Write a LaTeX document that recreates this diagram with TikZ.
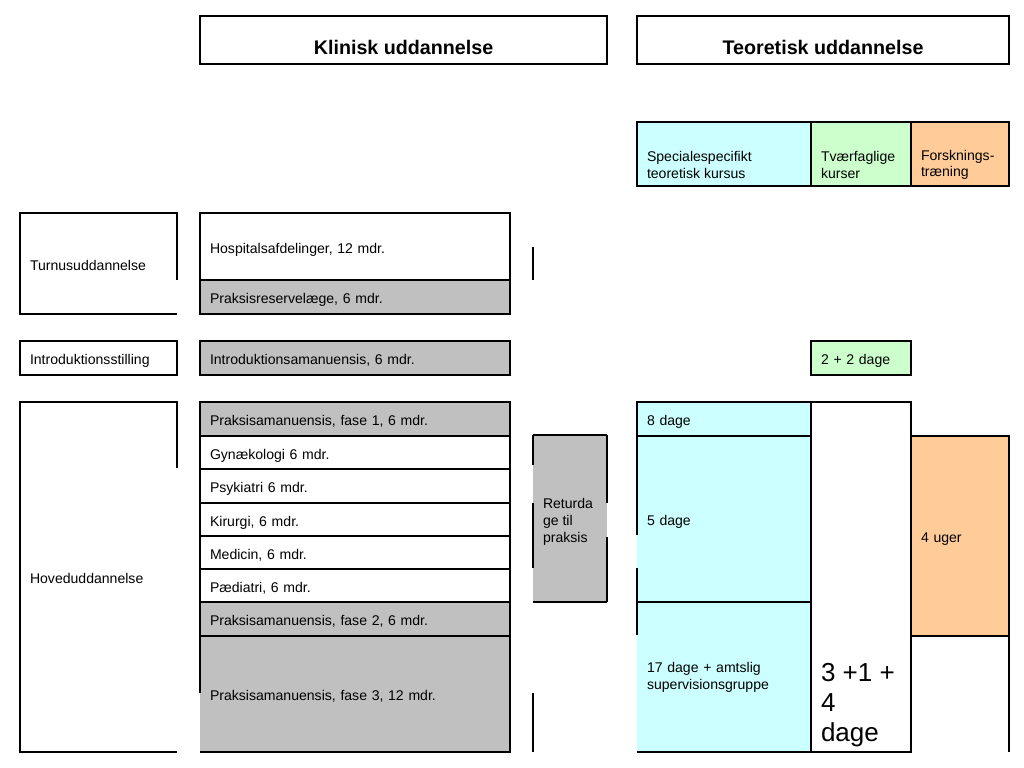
\documentclass[tikz,border=0pt]{standalone}
\usepackage{fontspec}
\setmainfont{Liberation Sans}
\usetikzlibrary{positioning}
\definecolor{celgray}{RGB}{192,192,192}
\definecolor{celcyan}{RGB}{204,255,255}
\definecolor{celgreen}{RGB}{204,255,204}
\definecolor{celorange}{RGB}{255,204,153}
\tikzset{
  cell/.style={rectangle, anchor=north west, inner xsep=0.25cm, inner ysep=0pt, outer sep=0pt, align=left, font=\fontsize{10}{12}\selectfont},
  oneline/.style={text height=11.4pt, text depth=2.1pt},
  ruled/.style={cell, oneline, draw},
  headcell/.style={ruled, minimum height=1.2cm, text height=20pt, text depth=0pt, align=center, font=\bfseries\fontsize{14}{17}\selectfont},
  leftcol/.style={minimum width=3.925cm, text width=3.425cm},
  klincol/.style={minimum width=7.75cm, text width=7.25cm},
  returcol/.style={minimum width=1.85cm, text width=1.35cm},
  speccol/.style={minimum width=4.35cm, text width=3.85cm},
  midcol/.style={minimum width=2.5cm, text width=2cm},
  forskcol/.style={minimum width=2.45cm, text width=1.95cm}
}
\begin{document}
\begin{tikzpicture}[x=0.025cm, y=-0.025cm, line width=1.1pt]
\useasboundingbox (0,0) rectangle (1024,768);

% headings
\node[headcell, minimum width=10.175cm] (klin) at (200,16) {Klinisk uddannelse};
\node[headcell, minimum width=9.3cm] (teor) at (637,16) {Teoretisk uddannelse};

% kinds of courses
\node[ruled, speccol, fill=celcyan, minimum height=1.6cm] (spec) at (637,122) {};
\node[ruled, midcol, fill=celgreen, minimum height=1.6cm] (tvaer) at (811,122) {};
\node[ruled, forskcol, fill=celorange, minimum height=1.6cm] (forsk) at (911,122) {};
\node[cell, anchor=west, yshift=-0.27cm] (speclbl) at (spec.west) {Specialespecifikt\\teoretisk kursus};
\node[cell, anchor=west, yshift=-0.27cm] (tvaerlbl) at (tvaer.west) {Tværfaglige\\kurser};
\node[cell, anchor=west, yshift=-0.27cm] (forsklbl) at (forsk.west) {Forsknings-\\træning};

% turnus
\node[cell, oneline, leftcol, minimum height=2.525cm] (turnus) at (20,213) {Turnusuddannelse};
\draw (turnus.south east) -- (turnus.south west) -- (turnus.north west) -- (turnus.north east) -- ++(0,67);
\node[ruled, klincol, minimum height=1.675cm] (hosp) at (200,213) {Hospitalsafdelinger, 12 mdr.};
\node[ruled, klincol, fill=celgray, minimum height=0.85cm, below=0pt of hosp] (prres) {Praksisreservelæge, 6 mdr.};
\draw (533,247) -- (533,280);

% introduktion
\node[ruled, leftcol, minimum height=0.85cm] (intro) at (20,341) {Introduktionsstilling};
\node[ruled, klincol, fill=celgray, minimum height=0.85cm] (introam) at (200,341) {Introduktionsamanuensis, 6 mdr.};
\node[ruled, midcol, fill=celgreen, minimum height=0.85cm] (tvaer2) at (811,341) {2 + 2 dage};

% hoveduddannelse
\node[cell, oneline, leftcol, minimum height=8.75cm] (hoved) at (20,402) {Hoveduddannelse};
\draw (hoved.south east) -- (hoved.south west) -- (hoved.north west) -- (hoved.north east) -- ++(0,66);

\node[ruled, klincol, fill=celgray, minimum height=0.85cm] (fase1) at (200,402) {Praksisamanuensis, fase 1, 6 mdr.};
\node[ruled, klincol, minimum height=0.825cm, below=0pt of fase1] (gyn) {Gynækologi 6 mdr.};
\node[ruled, klincol, minimum height=0.85cm, below=0pt of gyn] (psyk) {Psykiatri 6 mdr.};
\node[ruled, klincol, minimum height=0.825cm, below=0pt of psyk] (kir) {Kirurgi, 6 mdr.};
\node[ruled, klincol, minimum height=0.825cm, below=0pt of kir] (med) {Medicin, 6 mdr.};
\node[ruled, klincol, minimum height=0.825cm, below=0pt of med] (paed) {Pædiatri, 6 mdr.};
\node[ruled, klincol, fill=celgray, minimum height=0.85cm, below=0pt of paed] (fase2) {Praksisamanuensis, fase 2, 6 mdr.};
\node[cell, oneline, klincol, fill=celgray, minimum height=2.9cm, below=0pt of fase2] (fase3) {Praksisamanuensis, fase 3, 12 mdr.};
\draw (fase3.north west) -- ++(0,57);
\draw (fase3.north west) -- (fase3.north east) -- (fase3.south east) -- (fase3.south west);

% returdage
\node[cell, returcol, fill=celgray, minimum height=4.175cm] (retur) at (533,435) {};
\node[cell, anchor=west, yshift=-0.08cm] (returlbl) at (retur.west) {Returda\\ge til\\praksis};
\draw (retur.north west) -- (retur.north east);
\draw (retur.south west) -- (retur.south east);
\draw (retur.north west) -- ++(0,30);
\draw (retur.north west) ++(0,68) -- ++(0,65);
\draw (retur.north east) -- ++(0,68);
\draw (retur.south east) -- ++(0,-65);
\draw (533,693) -- (533,752);

% teoretiske kurser
\node[ruled, speccol, fill=celcyan, minimum height=0.85cm] (dage8) at (637,402) {8 dage};
\node[cell, oneline, speccol, fill=celcyan, minimum height=4.15cm, below=0pt of dage8] (dage5) {5 dage};
\node[cell, speccol, fill=celcyan, minimum height=3.75cm, below=0pt of dage5] (dage17) {17 dage + amtslig\\supervisionsgruppe};
\draw (dage5.north west) -- (dage5.north east);
\draw (dage5.north west) -- ++(0,99);
\draw (dage5.south west) ++(0,-34) -- ++(0,67);
\draw (dage5.south west) -- (dage5.south east);
\draw (dage17.south west) -- (dage17.south east);

\node[ruled, midcol, minimum height=8.75cm] (dage314) at (811,402) {};
\node[cell, anchor=south west, inner ysep=3.5pt, font=\fontsize{18.5}{21.6}\selectfont] (tal) at (dage314.south west) {3 +1 +\\4\\dage};

\node[ruled, forskcol, fill=celorange, minimum height=5cm] (uger4) at (911,436) {4 uger};
\draw (uger4.south east) -- ++(0,116);
\end{tikzpicture}
\end{document}
